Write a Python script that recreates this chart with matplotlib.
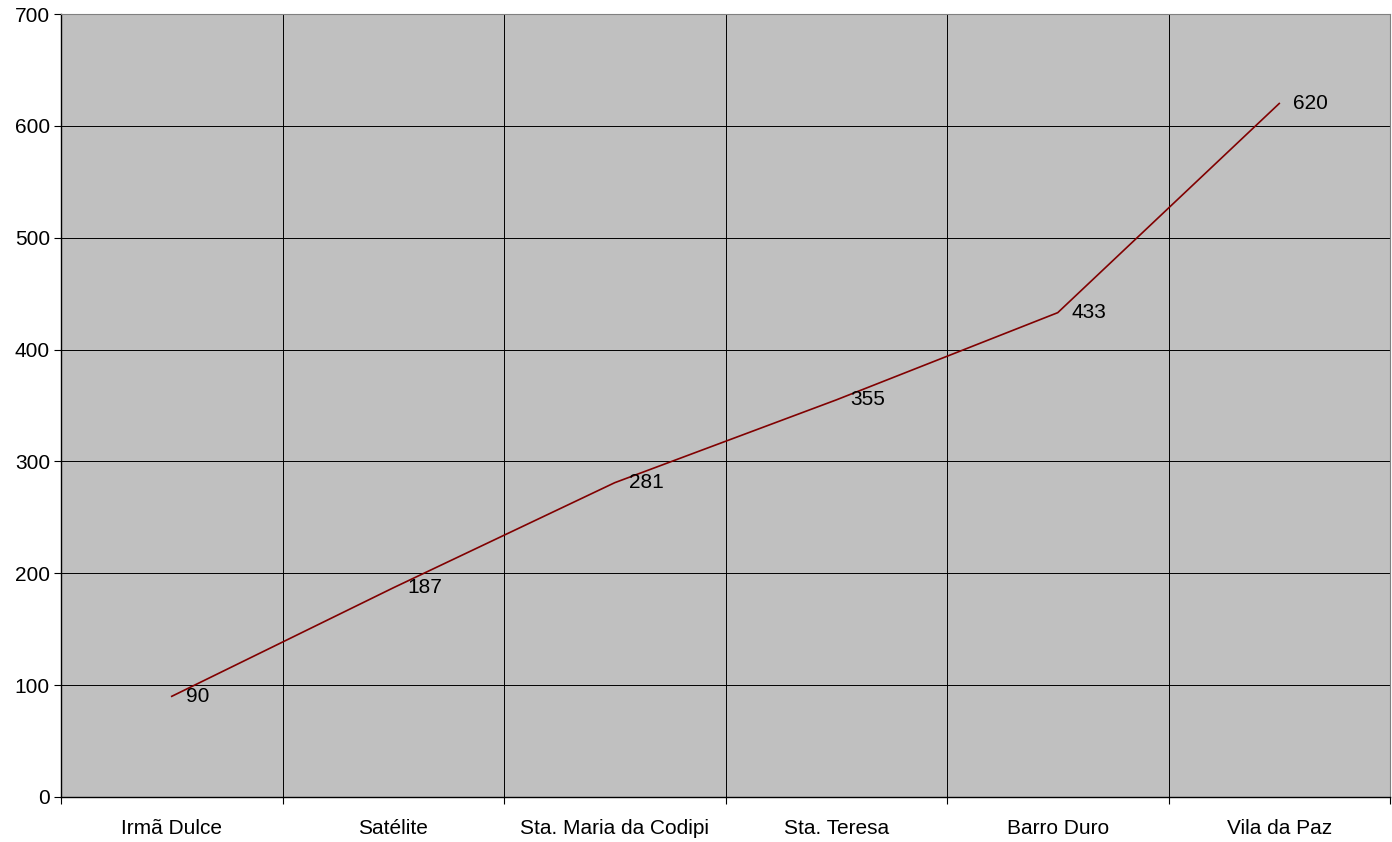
import matplotlib
matplotlib.use("Agg")
import matplotlib.pyplot as plt
import numpy as np

plt.rcParams['font.family'] = ['Liberation Sans', 'DejaVu Sans']

bairros = ['Irmã Dulce', 'Satélite', 'Sta. Maria da Codipi', 'Sta. Teresa',
           'Barro Duro', 'Vila da Paz']
valores = [90, 187, 281, 355, 433, 620]

fig = plt.figure(figsize=(13.92, 8.42), dpi=100)
ax = fig.add_axes([61 / 1392, 1 - 797 / 842, 1329 / 1392, 783 / 842])
ax.set_facecolor('#C0C0C0')

x = np.arange(len(bairros))
ax.plot(x, valores, color='#800000', lw=1.2, zorder=3)
for xi, v in zip(x, valores):
    ax.annotate(str(v), (xi, v), xytext=(10, 0), textcoords='offset points',
                va='center', ha='left', fontsize=15, color='black', zorder=4)

ax.set_xlim(-0.5, len(bairros) - 0.5)
ax.set_ylim(0, 700)
ax.set_yticks(range(0, 701, 100))
ax.set_xticks(x)
ax.set_xticklabels(bairros, fontsize=15)
ax.tick_params(axis='x', which='major', length=0, pad=16)
ax.set_xticks(np.arange(-0.5, len(bairros)), minor=True)
ax.tick_params(axis='x', which='minor', length=5, width=0.8, color='black')
ax.tick_params(axis='y', length=5, width=0.8, labelsize=15, pad=3)

ax.grid(True, axis='y', color='black', lw=0.7)
ax.grid(True, axis='x', which='minor', color='black', lw=0.7)
ax.set_axisbelow(True)

ax.spines['left'].set_color('black')
ax.spines['bottom'].set_color('black')
ax.spines['left'].set_linewidth(1.0)
ax.spines['bottom'].set_linewidth(1.0)
ax.spines['top'].set_color('#808080')
ax.spines['right'].set_color('#808080')

fig.savefig('out.png', dpi=100)
